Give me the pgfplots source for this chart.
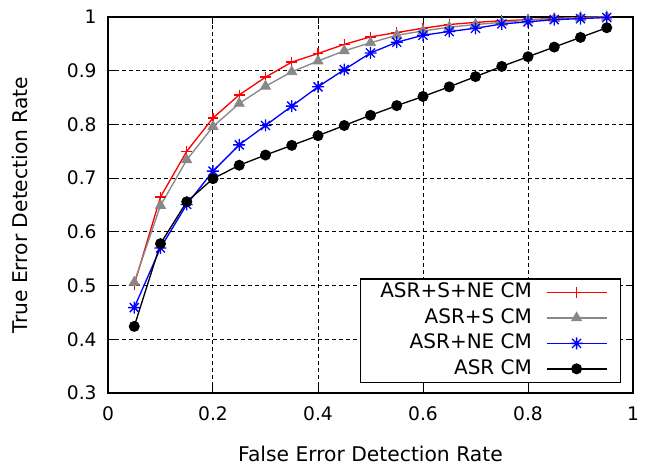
\documentclass[border=0pt]{standalone}
\usepackage{pgfplots}
\pgfplotsset{compat=1.18}
\usepackage{fontspec}
\setmainfont{DejaVu Sans}
\pgfdeclareplotmark{gnustar}{%
  \pgfpathmoveto{\pgfqpoint{-\pgfplotmarksize}{0pt}}\pgfpathlineto{\pgfqpoint{\pgfplotmarksize}{0pt}}%
  \pgfpathmoveto{\pgfqpoint{0pt}{-\pgfplotmarksize}}\pgfpathlineto{\pgfqpoint{0pt}{\pgfplotmarksize}}%
  \pgfpathmoveto{\pgfqpoint{-0.75\pgfplotmarksize}{-0.75\pgfplotmarksize}}\pgfpathlineto{\pgfqpoint{0.75\pgfplotmarksize}{0.75\pgfplotmarksize}}%
  \pgfpathmoveto{\pgfqpoint{-0.75\pgfplotmarksize}{0.75\pgfplotmarksize}}\pgfpathlineto{\pgfqpoint{0.75\pgfplotmarksize}{-0.75\pgfplotmarksize}}%
  \pgfusepathqstroke}
\pgfplotstableread{
x     asrsne  asrs   asrne  asr
0.05  0.502   0.506  0.459  0.424
0.10  0.665   0.649  0.570  0.578
0.15  0.750   0.734  0.651  0.656
0.20  0.812   0.796  0.713  0.699
0.25  0.855   0.839  0.762  0.724
0.30  0.888   0.871  0.798  0.743
0.35  0.916   0.898  0.834  0.761
0.40  0.932   0.918  0.870  0.779
0.45  0.949   0.937  0.902  0.798
0.50  0.963   0.952  0.933  0.817
0.55  0.971   0.966  0.953  0.835
0.60  0.979   0.974  0.966  0.852
0.65  0.986   0.981  0.973  0.870
0.70  0.990   0.986  0.979  0.889
0.75  0.993   0.990  0.987  0.908
0.80  0.995   0.994  0.991  0.926
0.85  0.997   0.997  0.995  0.944
0.90  0.999   0.999  0.997  0.962
0.95  1.000   1.000  0.999  0.980
}\data
\definecolor{gnugray}{RGB}{136,136,136}
\begin{document}
\begin{tikzpicture}
\begin{axis}[
  scale only axis,
  width=393.75pt, height=282pt,
  xmin=0, xmax=1, ymin=0.3, ymax=1,
  xtick={0,0.2,0.4,0.6,0.8,1},
  ytick={0.3,0.4,0.5,0.6,0.7,0.8,0.9,1},
  xticklabels={0,0.2,0.4,0.6,0.8,1},
  yticklabels={0.3,0.4,0.5,0.6,0.7,0.8,0.9,1},
  /pgf/number format/assume math mode=true,
  tick align=inside,
  major tick length=5pt,
  tick style={black, line width=0.75pt},
  axis line style={line width=1pt},
  grid=major,
  grid style={black, dashed, line width=0.75pt, dash pattern=on 3pt off 2.25pt},
  tick label style={font=\fontsize{14}{16}\selectfont},
  xticklabel style={yshift=-7pt},
  yticklabel style={xshift=-5pt},
  label style={font=\fontsize{15.2}{18}\selectfont},
  xlabel={False Error Detection Rate},
  ylabel={True Error Detection Rate},
  xlabel style={at={(axis description cs:0.5,0)}, anchor=center, yshift=-46pt},
  ylabel style={at={(axis description cs:0,0.5)}, anchor=center, yshift=66pt},
  legend style={at={(axis description cs:0.977,0.027)}, anchor=south east,
    font=\fontsize{15}{18}\selectfont, draw=black, line width=1pt,
    inner xsep=9.75pt, inner ysep=3pt, row sep=5.1pt, fill=white,
    nodes={inner ysep=0pt, inner xsep=5.25pt, text height=11pt, text depth=3pt},
    /tikz/every odd column/.append style={column sep=5.25pt}},
  legend cell align=right,
  legend plot pos=right,
  legend image code/.code={\draw[mark repeat=2,mark phase=2] plot coordinates {(0pt,0pt) (22.5pt,0pt) (45pt,0pt)};},
]
\coordinate (sw) at (rel axis cs:0,0);
\coordinate (ne) at (rel axis cs:1,1);
\addplot[red, line width=1pt, mark=+, mark size=4pt, mark options={line width=1pt}] table[x=x,y=asrsne]{\data};
\addlegendentry{ASR+S+NE CM}
\addplot[gnugray, line width=1pt, mark=triangle*, mark size=4.4pt, mark options={line width=0.5pt}] table[x=x,y=asrs]{\data};
\addlegendentry{ASR+S CM}
\addplot[blue, line width=1pt, mark=gnustar, mark size=4.5pt, mark options={line width=1pt}] table[x=x,y=asrne]{\data};
\addlegendentry{ASR+NE CM}
\addplot[black, line width=1pt, mark=*, mark size=3.6pt] table[x=x,y=asr]{\data};
\addlegendentry{ASR CM}
\end{axis}
\path[use as bounding box] ([xshift=-81pt,yshift=-54pt]sw) rectangle ([xshift=9.75pt,yshift=12.75pt]ne);
\end{tikzpicture}
\end{document}
